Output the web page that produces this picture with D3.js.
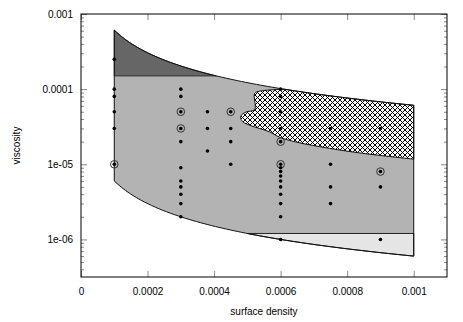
<!DOCTYPE html>
<html lang="en">
<head>
  <meta charset="UTF-8">
  <title>Viscosity vs surface density</title>
  <style>
    body {
      margin: 0;
      background: #fff;
      font-family: "Liberation Sans", Arial, sans-serif;
    }
    svg text {
      font-family: "Liberation Sans", Arial, sans-serif;
      font-size: 10px;
      fill: #000;
    }
  </style>
</head>
<body>

<script src="https://d3js.org/d3.v7.min.js"></script>
<script>
  // Region boundaries: nu = K / sigma
  const upperK = 6.1e-8;
  const lowerK = 6.0e-10;
  const sigmaMin = 0.0001;
  const sigmaMax = 0.001;
  const darkCut = 1.5e-4;
  const lightCut = 1.2e-6;

  // Left/lower edge of the cross-hatched zone, [sigma, nu]
  const hatchSigma = [0.001, 0.000846, 0.000747, 0.000648, 0.000597, 0.000567, 0.000537,
    0.000507, 0.000487, 0.00048, 0.000482, 0.000497, 0.000522, 0.000522, 0.000537, 0.000612];
  const hatchNu = [1.17e-5, 1.4e-5, 1.63e-5, 1.97e-5, 2.29e-5, 2.7e-5, 2.99e-5,
    3.31e-5, 3.66e-5, 4.07e-5, 4.5e-5, 4.98e-5, 5.35e-5, 8.77e-5, 9.4e-5, 9.97e-5];

  // Sample points (one column per surface density)
  const colSigma = [0.0001, 0.0003, 0.00038, 0.00045, 0.0006, 0.00075, 0.0009];
  const colNu = [
    [2.5e-4, 1e-4, 8e-5, 5e-5, 3e-5, 1e-5],
    [1e-4, 8e-5, 5e-5, 3e-5, 2e-5, 9e-6, 6e-6, 5e-6, 4e-6, 3e-6, 2e-6],
    [5e-5, 3e-5, 1.5e-5],
    [5e-5, 3e-5, 2e-5, 1e-5],
    [1e-4, 8e-5, 5e-5, 3e-5, 2e-5, 1e-5, 9e-6, 8e-6, 7e-6, 6e-6, 5e-6, 4e-6, 3e-6, 2e-6, 1e-6],
    [3e-5, 1e-5, 5e-6, 3e-6],
    [3e-5, 8e-6, 5e-6, 1e-6]
  ];
  // Points drawn with a ring around them
  const circledSigma = [0.0001, 0.0003, 0.0003, 0.00045, 0.0006, 0.0006, 0.0009];
  const circledNu = [1e-5, 5e-5, 3e-5, 5e-5, 2e-5, 1e-5, 8e-6];

  // Ticks
  const xTicks = [0, 0.0002, 0.0004, 0.0006, 0.0008, 0.001];
  const xTickLabels = ['0', '0.0002', '0.0004', '0.0006', '0.0008', '0.001'];
  const yTicks = [1e-6, 1e-5, 1e-4, 1e-3];
  const yTickLabels = ['1e-06', '1e-05', '0.0001', '0.001'];

  const width = 463;
  const height = 322;
  const mLeft = 81, mRight = 447, mTop = 14, mBottom = 277;

  const svg = d3.select('body')
    .append('svg')
    .attr('width', width)
    .attr('height', height);

  const x = d3.scaleLinear().domain([0, 0.0011]).range([mLeft, mRight]);
  const y = d3.scaleLog().domain([Math.pow(10, -6.5), 1e-3]).range([mBottom, mTop]);

  // Hatch pattern (crosshatch)
  const pat = svg.append('defs').append('pattern')
    .attr('id', 'hatch')
    .attr('patternUnits', 'userSpaceOnUse')
    .attr('width', 5)
    .attr('height', 5);
  pat.append('rect').attr('width', 5).attr('height', 5).attr('fill', '#fff');
  pat.append('path').attr('d', 'M0,0 L5,5 M-1,4 L1,6 M4,-1 L6,1').attr('stroke', '#000').attr('stroke-width', 1);
  pat.append('path').attr('d', 'M0,5 L5,0 M-1,1 L1,-1 M4,6 L6,4').attr('stroke', '#000').attr('stroke-width', 1);

  const line = d3.line().x(d => x(d[0])).y(d => y(d[1]));

  function hyperbola(K, s0, s1, n) {
    return d3.range(n + 1).map(i => {
      const s = s0 + (s1 - s0) * i / n;
      return [s, K / s];
    });
  }

  const upperCurve = hyperbola(upperK, sigmaMin, sigmaMax, 80);
  const lowerCurve = hyperbola(lowerK, sigmaMin, sigmaMax, 80);

  // Main light-grey region
  const mainPts = upperCurve.concat(lowerCurve.slice().reverse());
  svg.append('path')
    .attr('d', line(mainPts) + 'Z')
    .attr('fill', '#b3b3b3')
    .attr('stroke', 'none');

  // Dark region above darkCut
  const darkEnd = upperK / darkCut;
  const darkPts = [[sigmaMin, darkCut]].concat(hyperbola(upperK, sigmaMin, darkEnd, 40));
  svg.append('path')
    .attr('d', line(darkPts) + 'Z')
    .attr('fill', '#666')
    .attr('stroke', '#333')
    .attr('stroke-width', 1);

  // Pale region below lightCut
  const lightStart = lowerK / lightCut;
  const lightPts = hyperbola(lowerK, lightStart, sigmaMax, 40).concat([[sigmaMax, lightCut]]);
  svg.append('path')
    .attr('d', line(lightPts) + 'Z')
    .attr('fill', '#e5e5e5')
    .attr('stroke', '#222')
    .attr('stroke-width', 1);

  // Cross-hatched region
  const hatchPts = hatchSigma.map((s, i) => [s, hatchNu[i]]);
  const smooth = d3.line().x(d => x(d[0])).y(d => y(d[1])).curve(d3.curveCatmullRom.alpha(0.5));
  const topPts = hyperbola(upperK, hatchSigma[hatchSigma.length - 1], sigmaMax, 40);
  svg.append('path')
    .attr('d', smooth(hatchPts) + line(topPts).replace(/^M/, 'L') + 'Z')
    .attr('fill', 'url(#hatch)')
    .attr('stroke', '#111')
    .attr('stroke-width', 1);

  // Outline of the main region
  svg.append('path')
    .attr('d', line(mainPts) + 'Z')
    .attr('fill', 'none')
    .attr('stroke', '#111')
    .attr('stroke-width', 1);

  // Axes (gnuplot style: ticks inside, on all four sides)
  const minorY = [];
  for (let e = -7; e <= -4; e++) {
    for (let m = 2; m <= 9; m++) {
      const v = m * Math.pow(10, e);
      if (v >= Math.pow(10, -6.5) && v <= 1e-3) minorY.push(v);
    }
  }

  svg.append('g')
    .attr('transform', 'translate(' + mLeft + ',0)')
    .call(d3.axisLeft(y).tickValues(yTicks).tickSize(-6).tickPadding(8)
      .tickFormat((d, i) => yTickLabels[i]));
  svg.append('g')
    .attr('transform', 'translate(' + mLeft + ',0)')
    .call(d3.axisLeft(y).tickValues(minorY).tickSize(-3).tickFormat(''));
  svg.append('g')
    .attr('transform', 'translate(' + mRight + ',0)')
    .call(d3.axisRight(y).tickValues(yTicks).tickSize(-6).tickFormat(''));
  svg.append('g')
    .attr('transform', 'translate(' + mRight + ',0)')
    .call(d3.axisRight(y).tickValues(minorY).tickSize(-3).tickFormat(''));
  svg.append('g')
    .attr('transform', 'translate(0,' + mBottom + ')')
    .call(d3.axisBottom(x).tickValues(xTicks).tickSize(-6).tickPadding(11)
      .tickFormat((d, i) => xTickLabels[i]));
  svg.append('g')
    .attr('transform', 'translate(0,' + mTop + ')')
    .call(d3.axisTop(x).tickValues(xTicks).tickSize(-6).tickFormat(''));

  svg.selectAll('.domain').remove();
  svg.selectAll('.tick line').attr('stroke', '#888');
  svg.selectAll('.tick text')
    .style('font-family', '"Liberation Sans", Arial, sans-serif')
    .style('font-size', '10px')
    .attr('fill', '#000');

  // Frame
  svg.append('rect')
    .attr('x', mLeft)
    .attr('y', mTop)
    .attr('width', mRight - mLeft)
    .attr('height', mBottom - mTop)
    .attr('fill', 'none')
    .attr('stroke', '#000')
    .attr('stroke-width', 1);

  // Points
  const pts = [];
  colSigma.forEach((s, i) => colNu[i].forEach(v => pts.push([s, v])));

  svg.selectAll('circle.ring')
    .data(circledSigma.map((s, i) => [s, circledNu[i]]))
    .enter()
    .append('circle')
    .attr('class', 'ring')
    .attr('cx', d => x(d[0]))
    .attr('cy', d => y(d[1]))
    .attr('r', 3.8)
    .attr('fill', 'none')
    .attr('stroke', '#333')
    .attr('stroke-width', 1);

  svg.selectAll('circle.pt')
    .data(pts)
    .enter()
    .append('circle')
    .attr('class', 'pt')
    .attr('cx', d => x(d[0]))
    .attr('cy', d => y(d[1]))
    .attr('r', 1.8)
    .attr('fill', '#000');

  // Axis titles
  svg.append('text')
    .attr('x', (mLeft + mRight) / 2)
    .attr('y', 315)
    .attr('text-anchor', 'middle')
    .text('surface density');

  svg.append('text')
    .attr('transform', 'translate(20,' + ((mTop + mBottom) / 2) + ') rotate(-90)')
    .attr('text-anchor', 'middle')
    .text('viscosity');
</script>

</body>
</html>
